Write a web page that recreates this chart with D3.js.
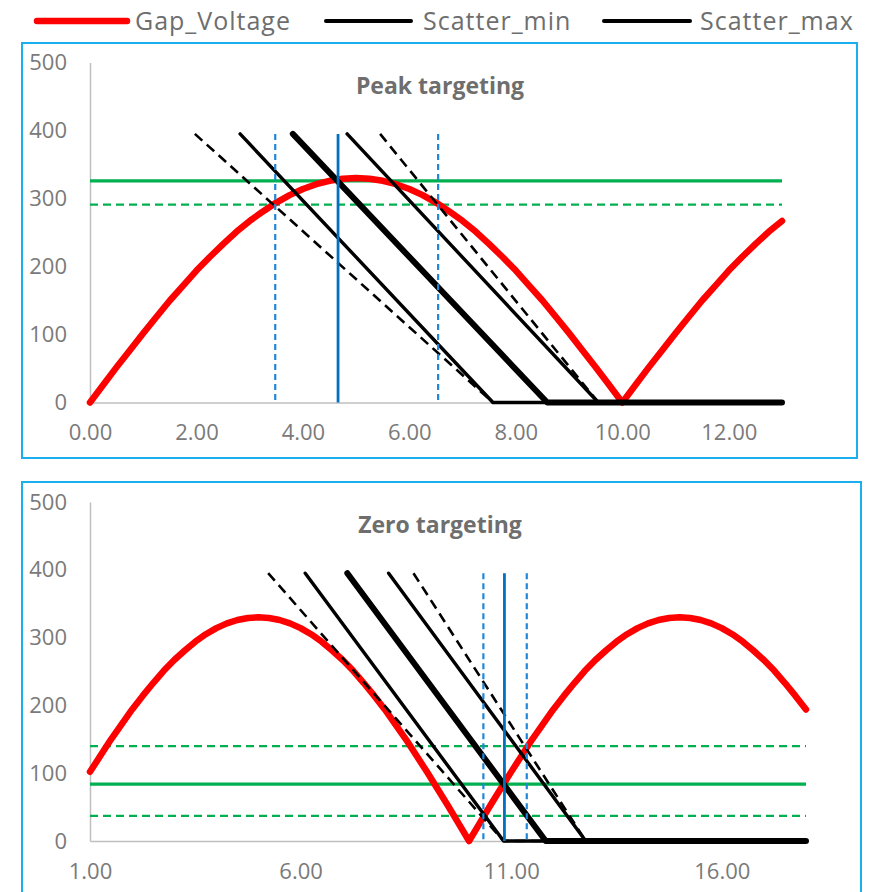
<!DOCTYPE html>
<html>
<head>
<meta charset="utf-8">
<script src="https://cdn.jsdelivr.net/npm/d3@7/dist/d3.min.js"></script>
<style>
  html, body { margin: 0; padding: 0; background: #ffffff; }
  svg { display: block; }
  text { font-family: "Open Sans", "Noto Sans", sans-serif; }
</style>
</head>
<body>
<svg id="chart" width="875" height="892"></svg>
<script>
// ---------------- DATA ----------------
const seriesNames = ["Gap_Voltage", "Scatter_min", "Scatter_max"];

// Gap voltage sampled every 0.25 time units
const gapStep = 0.25;
const topGapStart = 0;
const topGapVoltage = [0,26,52,77,102,126,150,172,194,214,233,251,267,281,294,305,314,321,326,329,330,
  329,326,321,314,305,294,281,267,251,233,214,194,172,150,126,102,77,52,26,0,
  26,52,77,102,126,150,172,194,214,233,251,267];
const bottomGapStart = 1;
const bottomGapVoltage = [102,126,150,172,194,214,233,251,267,281,294,305,314,321,326,329,330,
  329,326,321,314,305,294,281,267,251,233,214,194,172,150,126,102,77,52,26,0,
  26,52,77,102,126,150,172,194,214,233,251,267,281,294,305,314,321,326,329,330,
  329,326,321,314,305,294,281,267,251,233,214,194];

// Scatter lines: start time at value 395, time where they reach 0
const scatterStartValue = 395;
const topScatterStart = [1.97, 2.82, 3.81, 4.83, 5.45];
const topScatterZero  = [7.57, 7.57, 8.59, 9.55, 9.55];
const bottomScatterStart = [5.23, 6.11, 7.11, 8.09, 8.68];
const bottomScatterZero  = [10.82, 10.82, 11.82, 12.77, 12.77];

// Target levels (first solid, rest dashed)
const topTargets = [326, 291];
const bottomTargets = [84, 140, 37];

// Vertical time markers (first solid, rest dashed)
const topMarkers = [4.66, 3.48, 6.54];
const bottomMarkers = [10.84, 10.34, 11.37];

const topXTicks = [0, 2, 4, 6, 8, 10, 12];
const bottomXTicks = [1, 6, 11, 16];
const yTicks = [0, 100, 200, 300, 400, 500];
const topDomain = [0, 13];
const bottomDomain = [1, 18];
const yDomain = [0, 500];

// ---------------- STYLES ----------------
const scatterStyle = [
  {w: 2.6, dash: "10,6"},
  {w: 3.4, dash: null},
  {w: 6, dash: null},
  {w: 3.4, dash: null},
  {w: 2.6, dash: "10,6"}
];

const svg = d3.select("#chart");

// Legend
const legendItems = [
  {name: seriesNames[0], color: "#ff0000", w: 6.5, x1: 37, x2: 127, tx: 135},
  {name: seriesNames[1], color: "#000000", w: 4, x1: 326, x2: 411, tx: 423},
  {name: seriesNames[2], color: "#000000", w: 4, x1: 604, x2: 690, tx: 700}
];
const lg = svg.append("g");
legendItems.forEach(d => {
  lg.append("line").attr("x1", d.x1).attr("x2", d.x2).attr("y1", 21).attr("y2", 21)
    .attr("stroke", d.color).attr("stroke-width", d.w).attr("stroke-linecap", "round");
  lg.append("text").attr("x", d.tx).attr("y", 30).text(d.name)
    .attr("font-size", 25).attr("letter-spacing", 1).attr("fill", "#6e6e6e");
});

function drawPanel(cfg) {
  const g = svg.append("g");
  g.append("rect").attr("x", cfg.box[0]).attr("y", cfg.box[1])
    .attr("width", cfg.box[2]).attr("height", cfg.box[3])
    .attr("fill", "#fff").attr("stroke", "#1ab0ee").attr("stroke-width", 2);

  const x = d3.scaleLinear().domain(cfg.xDomain).range(cfg.xRange);
  const y = d3.scaleLinear().domain(yDomain).range(cfg.yRange);

  // axes
  const yAxis = d3.axisLeft(y).tickValues(yTicks).tickSize(0).tickPadding(23).tickFormat(d3.format("d"));
  const ya = g.append("g").attr("transform", `translate(${cfg.xRange[0]},0)`).call(yAxis);
  ya.select(".domain").attr("stroke", "#bfbfbf").attr("stroke-width", 1.5);
  ya.selectAll("text").attr("font-size", 22).attr("fill", "#7a7a7a").attr("font-family", "Open Sans");

  const xAxis = d3.axisBottom(x).tickValues(cfg.xTicks).tickSize(0).tickPadding(22).tickFormat(d3.format(".2f"));
  const xa = g.append("g").attr("transform", `translate(0,${cfg.yRange[0]})`).call(xAxis);
  xa.select(".domain").attr("stroke", "#bfbfbf").attr("stroke-width", 1.5);
  xa.selectAll("text").attr("font-size", 22).attr("fill", "#7a7a7a").attr("font-family", "Open Sans");

  // title
  g.append("text").attr("x", cfg.titleX).attr("y", cfg.titleY).attr("text-anchor", "middle")
    .attr("font-size", 23).attr("font-weight", "bold").attr("fill", "#6e6e6e").text(cfg.title);

  // green target lines
  cfg.targets.forEach((v, i) => {
    g.append("line").attr("x1", x(cfg.xDomain[0])).attr("x2", x(cfg.xDomain[1]))
      .attr("y1", y(v)).attr("y2", y(v))
      .attr("stroke", "#00b050").attr("stroke-width", i === 0 ? 3.2 : 2.4)
      .attr("stroke-dasharray", i === 0 ? null : "8,5");
  });

  // red gap voltage
  const pts = cfg.gap.map((v, i) => [cfg.gapStart + i * gapStep, v]);
  const line = d3.line().x(d => x(d[0])).y(d => y(d[1]));
  g.append("path").attr("d", line(pts)).attr("fill", "none")
    .attr("stroke", "#ff0000").attr("stroke-width", 6.5)
    .attr("stroke-linecap", "round").attr("stroke-linejoin", "round");

  // black scatter lines
  cfg.sStart.forEach((t0, i) => {
    const p = [[t0, scatterStartValue], [cfg.sZero[i], 0], [cfg.xDomain[1], 0]];
    const st = scatterStyle[i];
    g.append("path").attr("d", line(p)).attr("fill", "none")
      .attr("stroke", "#000").attr("stroke-width", st.w)
      .attr("stroke-dasharray", st.dash)
      .attr("stroke-linecap", st.dash ? "butt" : "round").attr("stroke-linejoin", "round");
  });

  // blue vertical markers
  cfg.markers.forEach((t, i) => {
    g.append("line").attr("x1", x(t)).attr("x2", x(t))
      .attr("y1", y(scatterStartValue)).attr("y2", y(0))
      .attr("stroke", i === 0 ? "#0070c0" : "#1f86d8").attr("stroke-width", i === 0 ? 2.8 : 2.2)
      .attr("stroke-dasharray", i === 0 ? null : "6,4");
  });
}

drawPanel({
  box: [22, 43, 835, 415],
  xDomain: topDomain, xRange: [90, 782], yRange: [402.5, 62.5],
  xTicks: topXTicks, title: "Peak targeting", titleX: 440, titleY: 94,
  targets: topTargets, gap: topGapVoltage, gapStart: topGapStart,
  sStart: topScatterStart, sZero: topScatterZero, markers: topMarkers
});

drawPanel({
  box: [22, 482, 839, 420],
  xDomain: bottomDomain, xRange: [90, 806], yRange: [841, 502],
  xTicks: bottomXTicks, title: "Zero targeting", titleX: 440, titleY: 533,
  targets: bottomTargets, gap: bottomGapVoltage, gapStart: bottomGapStart,
  sStart: bottomScatterStart, sZero: bottomScatterZero, markers: bottomMarkers
});
</script>
</body>
</html>
